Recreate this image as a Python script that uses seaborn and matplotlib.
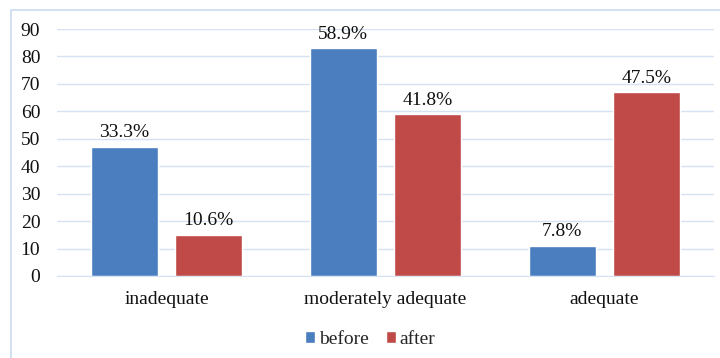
import matplotlib
matplotlib.use("Agg")
import matplotlib.pyplot as plt
import seaborn as sns
import pandas as pd
from matplotlib.patches import Rectangle

categories = ["inadequate", "moderately adequate", "adequate"]
groups = ["before", "after"]
before_values = [47, 83, 11]
after_values = [15, 59, 67]
before_labels = ["33.3%", "58.9%", "7.8%"]
after_labels = ["10.6%", "41.8%", "47.5%"]
y_ticks = [0, 10, 20, 30, 40, 50, 60, 70, 80, 90]

df = pd.DataFrame({
    "category": categories * 2,
    "group": ["before"] * 3 + ["after"] * 3,
    "value": before_values + after_values,
})

sns.set_style("white")
plt.rcParams["font.family"] = ["Liberation Serif", "DejaVu Serif"]

fig = plt.figure(figsize=(7.2, 3.58), dpi=100)
ax = fig.add_axes([57 / 720, (358 - 276) / 358, (714 - 57) / 720, (276 - 29) / 358])

palette = {"before": "#4a7ebf", "after": "#c04a48"}
sns.barplot(data=df, x="category", y="value", hue="group", order=categories,
            hue_order=groups, palette=palette, width=0.77, gap=0.2,
            saturation=1, ax=ax, legend=True)

for cont, labs in zip(ax.containers, [before_labels, after_labels]):
    ax.bar_label(cont, labels=labs, padding=4, fontsize=14, color="#111111")

ax.set_ylim(0, 90)
ax.set_yticks(y_ticks)
ax.yaxis.grid(True, color="#d6e2f1", linewidth=1)
ax.set_axisbelow(True)
for s in ["top", "right", "left"]:
    ax.spines[s].set_visible(False)
ax.spines["bottom"].set_color("#d6e2f1")
ax.tick_params(axis="y", labelsize=14, length=0, pad=12, colors="#111111")
ax.tick_params(axis="x", labelsize=14, length=0, pad=11, colors="#111111")
ax.set_xlabel("")
ax.set_ylabel("")

leg = ax.legend(loc="upper center", bbox_to_anchor=(0.477, -0.15), ncol=2,
                frameon=False, fontsize=14, handlelength=0.5, handleheight=0.6,
                handletextpad=0.2, columnspacing=0.9)

fig.patches.append(Rectangle((11 / 720, -0.1), 1.0, (358 - 10) / 358 + 0.1,
                             transform=fig.transFigure, fill=False,
                             edgecolor="#c9daf0", linewidth=1.2, zorder=0))

fig.savefig("out.png", dpi=100)
